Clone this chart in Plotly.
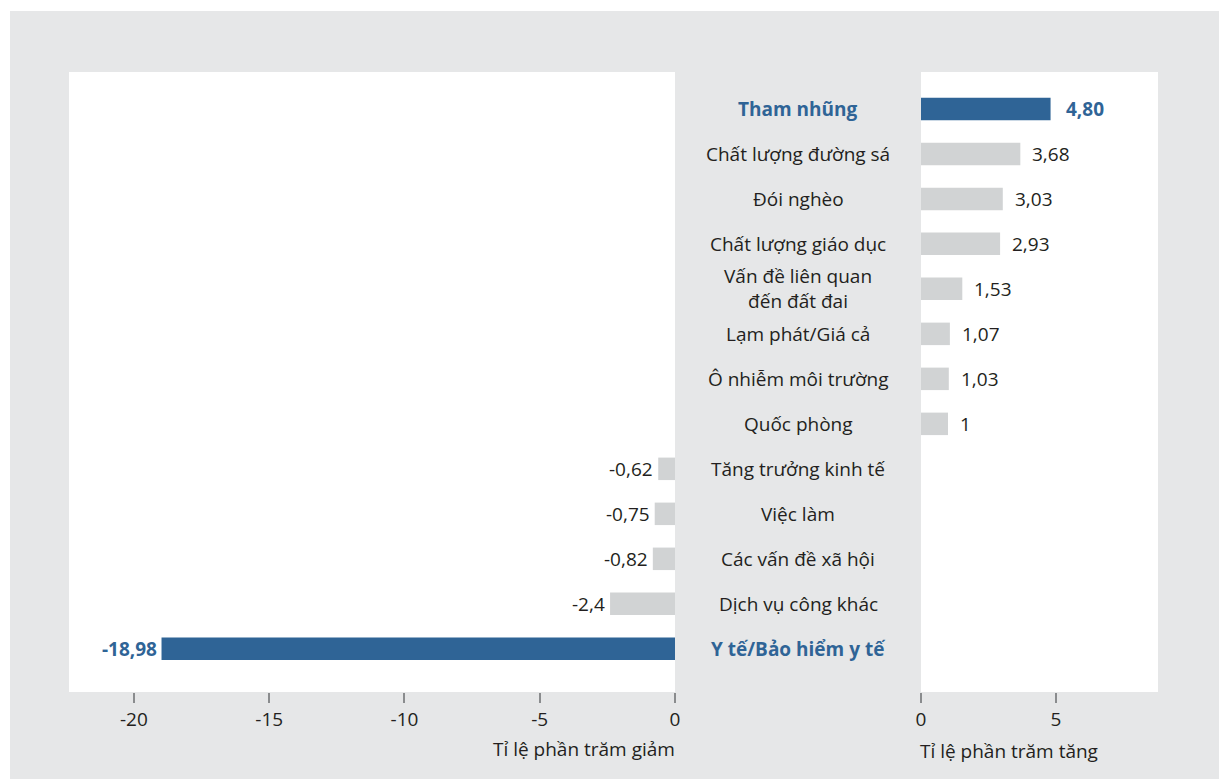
import plotly.graph_objects as go

categories = ["Tham nhũng", "Chất lượng đường sá", "Đói nghèo", "Chất lượng giáo dục",
              "Vấn đề liên quan<br>đến đất đai", "Lạm phát/Giá cả", "Ô nhiễm môi trường",
              "Quốc phòng", "Tăng trưởng kinh tế", "Việc làm", "Các vấn đề xã hội",
              "Dịch vụ công khác", "Y tế/Bảo hiểm y tế"]
values = [4.80, 3.68, 3.03, 2.93, 1.53, 1.07, 1.03, 1, -0.62, -0.75, -0.82, -2.4, -18.98]
value_labels = ["4,80", "3,68", "3,03", "2,93", "1,53", "1,07", "1,03", "1",
                "-0,62", "-0,75", "-0,82", "-2,4", "-18,98"]
highlight = ["Tham nhũng", "Y tế/Bảo hiểm y tế"]
left_ticks = [-20, -15, -10, -5, 0]
right_ticks = [0, 5]
left_title = "Tỉ lệ phần trăm giảm"
right_title = "Tỉ lệ phần trăm tăng"

BLUE = "#2f6496"
GRAY = "#d1d3d4"
BG = "#e6e7e8"
TXT = "#231f20"
FONT = "Open Sans"
FS = 19

W, H = 1219, 779
ML, MR, MT, MB = 69, 61, 72, 87
PW = W - ML - MR
PH = H - MT - MB

def px_x(px):
    return (px - ML) / PW

def px_y(py):
    return (H - MB - py) / PH

idx = list(range(len(categories)))
colors = [BLUE if c in highlight else GRAY for c in categories]

neg_x = [v if v < 0 else None for v in values]
pos_x = [v if v > 0 else None for v in values]

fig = go.Figure()
fig.add_trace(go.Bar(x=neg_x, y=idx, orientation="h", marker=dict(color=colors, line_width=0),
                     width=0.5, xaxis="x", yaxis="y", showlegend=False, hoverinfo="skip"))
fig.add_trace(go.Bar(x=pos_x, y=idx, orientation="h", marker=dict(color=colors, line_width=0),
                     width=0.5, xaxis="x2", yaxis="y2", showlegend=False, hoverinfo="skip"))

annotations = []
for i, (c, v, lab) in enumerate(zip(categories, values, value_labels)):
    hl = c in highlight
    annotations.append(dict(
        x=px_x(798), xref="paper", y=i, yref="y", text=("<b>%s</b>" % c) if hl else c,
        showarrow=False, xanchor="center", yanchor="middle", align="center",
        font=dict(family=FONT, size=FS, color=BLUE if hl else TXT)))
    if v > 0:
        annotations.append(dict(
            x=v, xref="x2", y=i, yref="y2", text=("<b>%s</b>" % lab) if hl else lab,
            showarrow=False, xanchor="left", yanchor="middle", xshift=(13 if hl else 10),
            font=dict(family=FONT, size=FS, color=BLUE if hl else TXT)))
    else:
        annotations.append(dict(
            x=v, xref="x", y=i, yref="y", text=("<b>%s</b>" % lab) if hl else lab,
            showarrow=False, xanchor="right", yanchor="middle", xshift=-3,
            font=dict(family=FONT, size=FS, color=BLUE if hl else TXT)))

annotations.append(dict(x=px_x(677), xref="paper", y=px_y(749), yref="paper", text=left_title,
                        showarrow=False, xanchor="right", yanchor="middle",
                        font=dict(family=FONT, size=FS, color=TXT)))
annotations.append(dict(x=px_x(918), xref="paper", y=px_y(751), yref="paper", text=right_title,
                        showarrow=False, xanchor="left", yanchor="middle",
                        font=dict(family=FONT, size=FS, color=TXT)))

shapes = [
    dict(type="rect", xref="paper", yref="paper", x0=px_x(-5), x1=px_x(W + 5), y0=px_y(11), y1=px_y(-5),
         fillcolor="white", line_width=0, layer="below"),
    dict(type="rect", xref="paper", yref="paper", x0=px_x(-5), x1=px_x(10), y0=px_y(H + 5), y1=px_y(-5),
         fillcolor="white", line_width=0, layer="below"),
]

yr = [12.96, -0.82]
axis_common = dict(showgrid=False, zeroline=False, showline=False, ticks="outside",
                   ticklen=10, tickcolor="#8a8c8e", tickwidth=1.5,
                   tickfont=dict(family=FONT, size=FS, color=TXT))
fig.update_layout(
    width=W, height=H,
    margin=dict(l=ML, r=MR, t=MT, b=MB),
    paper_bgcolor=BG, plot_bgcolor="white",
    font=dict(family=FONT, color=TXT),
    xaxis=dict(domain=[0, px_x(675)], range=[-22.4, 0], tickvals=left_ticks,
               ticktext=[str(t) for t in left_ticks], anchor="y", **axis_common),
    xaxis2=dict(domain=[px_x(921), 1], range=[0, 8.78], tickvals=right_ticks,
                ticktext=[str(t) for t in right_ticks], anchor="y2", **axis_common),
    yaxis=dict(range=yr, showticklabels=False, showgrid=False, zeroline=False, ticks="", anchor="x"),
    yaxis2=dict(range=yr, showticklabels=False, showgrid=False, zeroline=False, ticks="", anchor="x2",
                matches="y"),
    annotations=annotations,
    shapes=shapes,
    bargap=0.5,
)

fig.write_html("out.html", post_script="document.body.style.margin='0';",
               config={"displayModeBar": False})
